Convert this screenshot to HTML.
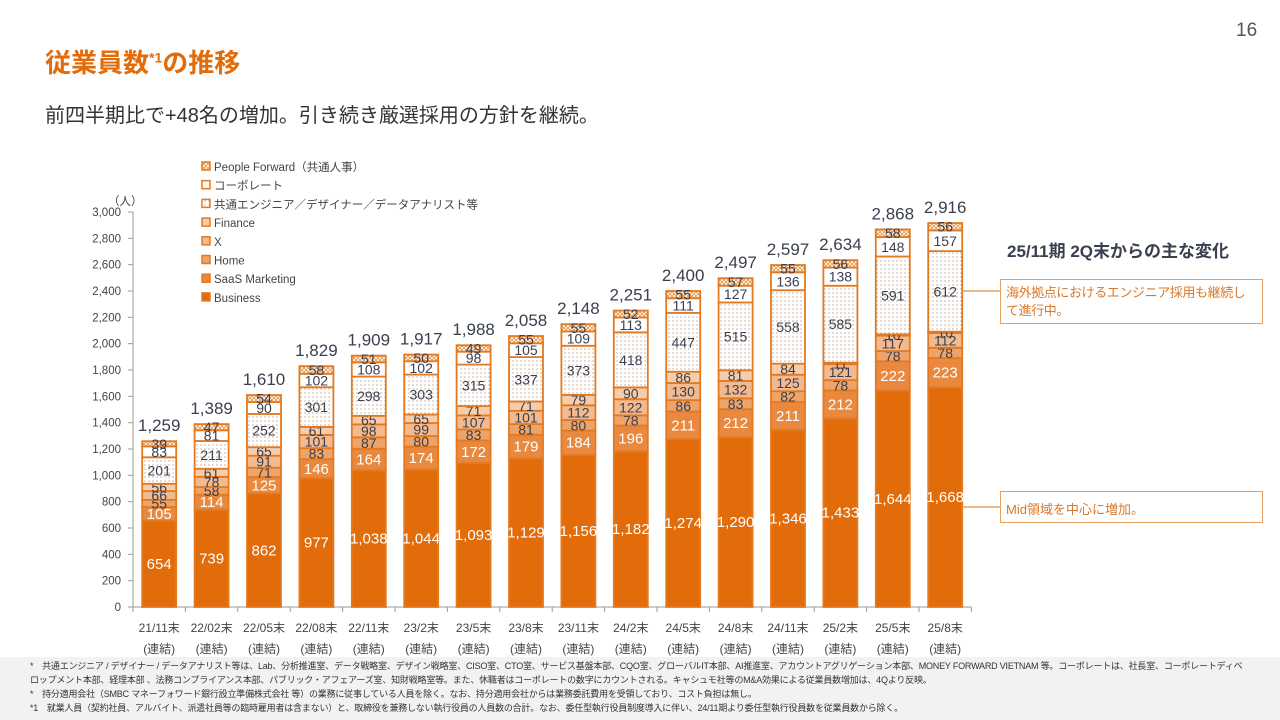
<!DOCTYPE html>
<html><head><meta charset="utf-8">
<style>
body{margin:0;width:1280px;height:720px;overflow:hidden;background:#fff;font-family:"Liberation Sans","Noto Sans CJK JP",sans-serif;position:relative;color:#3a3f4f}
.abs{position:absolute}
</style></head><body>
<div class="abs" style="left:1236px;top:20px;font-size:19px;color:#555">16</div>
<div class="abs" style="left:45px;top:43px;font-size:26px;font-weight:bold;color:#E36C0A">従業員数<sup style="font-size:14px">*1</sup>の推移</div>
<div class="abs" style="left:45px;top:99px;font-size:20px;color:#333">前四半期比で+48名の増加。引き続き厳選採用の方針を継続。</div>
<div class="abs" style="left:1007px;top:237px;font-size:17px;font-weight:bold;color:#3a3f4f">25/11期 2Q末からの主な変化</div>
<div class="abs" style="left:1000px;top:279px;width:263px;height:45px;border:1.5px solid #E8A060;padding:4px 5px;box-sizing:border-box;font-size:13px;letter-spacing:-0.4px;line-height:18px;color:#D9782A">海外拠点におけるエンジニア採用も継続して進行中。</div>
<div class="abs" style="left:1000px;top:491px;width:263px;height:32px;border:1.5px solid #E8A060;padding:7px 5px;box-sizing:border-box;font-size:13px;color:#D9782A">Mid領域を中心に増加。</div>
<svg class="abs" style="left:0;top:0" width="1280" height="720" id="chart">
<defs>
<pattern id="dots" width="4" height="4" patternUnits="userSpaceOnUse"><rect width="4" height="4" fill="#fff"/><circle cx="1" cy="1" r="0.6" fill="#b08060"/></pattern>
<pattern id="cross" width="4" height="4" patternUnits="userSpaceOnUse"><rect width="4" height="4" fill="#fff"/><path d="M0 0L4 4M4 0L0 4" stroke="#E8954A" stroke-width="0.9"/></pattern>
</defs>
<g id="g"></g>
</svg>
<div class="abs" style="left:0;top:657px;width:1280px;height:63px;background:#f2f2f2;font-size:9px;line-height:14px;color:#333;padding:2px 30px;box-sizing:border-box;letter-spacing:-0.2px">
<div>*　共通エンジニア / デザイナー / データアナリスト等は、Lab、分析推進室、データ戦略室、デザイン戦略室、CISO室、CTO室、サービス基盤本部、CQO室、グローバルIT本部、AI推進室、アカウントアグリゲーション本部、MONEY FORWARD VIETNAM 等。コーポレートは、社長室、コーポレートディベロップメント本部、経理本部 、法務コンプライアンス本部、パブリック・アフェアーズ室、知財戦略室等。また、休職者はコーポレートの数字にカウントされる。キャシュモ社等のM&A効果による従業員数増加は、4Qより反映。</div>
<div>*　持分適用会社（SMBC マネーフォワード銀行設立準備株式会社 等）の業務に従事している人員を除く。なお、持分適用会社からは業務委託費用を受領しており、コスト負担は無し。</div>
<div>*1　就業人員（契約社員、アルバイト、派遣社員等の臨時雇用者は含まない）と、取締役を兼務しない執行役員の人員数の合計。なお、委任型執行役員制度導入に伴い、24/11期より委任型執行役員数を従業員数から除く。</div>
</div>
<script>
const categories=["21/11末","22/02末","22/05末","22/08末","22/11末","23/2末","23/5末","23/8末","23/11末","24/2末","24/5末","24/8末","24/11末","25/2末","25/5末","25/8末"];
const seriesNames=["Business","SaaS Marketing","Home","X","Finance","共通エンジニア／デザイナー／データアナリスト等","コーポレート","People Forward（共通人事）"];
const business=[654,739,862,977,1038,1044,1093,1129,1156,1182,1274,1290,1346,1433,1644,1668];
const saas=[105,114,125,146,164,174,172,179,184,196,211,212,211,212,222,223];
const home=[55,58,71,83,87,80,83,81,80,78,86,83,82,78,78,78];
const xseg=[66,78,91,101,98,99,107,101,112,122,130,132,125,121,117,112];
const finance=[56,61,65,61,65,65,71,71,79,90,86,81,84,11,10,10];
const common=[201,211,252,301,298,303,315,337,373,418,447,515,558,585,591,612];
const corporate=[83,81,90,102,108,102,98,105,109,113,111,127,136,138,148,157];
const peopleForward=[39,47,54,58,51,50,49,55,55,52,55,57,55,56,58,56];
const yTicks=[0,200,400,600,800,1000,1200,1400,1600,1800,2000,2200,2400,2600,2800,3000];
const series=[business,saas,home,xseg,finance,common,corporate,peopleForward];
const fills=["#E36C0A","#E8893F","#EEA469","#F2BA8E","#F6CDAC","url(#dots)","#fff","url(#cross)"];
const txt=["#fff","#fff","#3a3f4f","#3a3f4f","#3a3f4f","#3a3f4f","#3a3f4f","#3a3f4f"];
const ns="http://www.w3.org/2000/svg";
const g=document.getElementById('g');
const x0=133,bandW=52.4,y0=607,yMax=3000,plotH=395;
const yS=v=>y0-v/yMax*plotH;
const xC=i=>x0+bandW*(i+0.5);
function mk(t,a,p){const e=document.createElementNS(ns,t);for(const k in a)e.setAttribute(k,a[k]);(p||g).appendChild(e);return e;}
let ax=mk('line',{x1:x0,y1:yS(0),x2:x0,y2:yS(3000),stroke:'#999'});


let bx=mk('line',{x1:x0-5,y1:y0,x2:x0+bandW*16,y2:y0,stroke:'#999'});


yTicks.forEach(v=>{
 mk('line',{x1:x0-5,y1:yS(v),x2:x0,y2:yS(v),stroke:'#999'});
 const t=mk('text',{x:x0-12,y:yS(v)+4,'text-anchor':'end','font-size':11.5,fill:'#444'});
 t.textContent=v.toLocaleString('en-US');
 
 
});
const u=mk('text',{x:108,y:205,'font-size':11.5,fill:'#444'});u.textContent='（人）';


for(let i=0;i<=16;i++)mk('line',{x1:x0+bandW*i,y1:y0,x2:x0+bandW*i,y2:y0+5,stroke:'#999'});
categories.forEach((c,i)=>{
 const t=mk('text',{x:xC(i),y:632,'text-anchor':'middle','font-size':12,fill:'#444'});t.textContent=c;
 
 
 const t2=mk('text',{x:xC(i),y:653,'text-anchor':'middle','font-size':12,fill:'#444'});t2.textContent='(連結)';
 
 
});
const bw=34;
categories.forEach((c,i)=>{
 let cum=0;
 series.forEach((s,k)=>{
  const v=s[i];const yt=yS(cum+v),yb=yS(cum);
  const r=mk('rect',{x:xC(i)-bw/2,y:yt,width:bw,height:yb-yt,fill:fills[k],stroke:'#E37A22','stroke-width':1.8});
  
  
  const fs=k<2?15:14;
  const t=mk('text',{x:xC(i),y:(yt+yb)/2+5,'text-anchor':'middle','font-size':fs,fill:txt[k]});
  t.textContent=v.toLocaleString('en-US');
  
  
  cum+=v;
 });
 const tt=mk('text',{x:xC(i),y:yS(cum)-10,'text-anchor':'middle','font-size':17,fill:'#3a3f4f'});
 tt.textContent=cum.toLocaleString('en-US');
 
 
});
for(let k=7;k>=0;k--){
 const row=7-k;const ly=167+row*18.7;
 const r=mk('rect',{x:202,y:ly-5,width:8,height:8,fill:fills[k],stroke:'#E37A22','stroke-width':1.5});
 
 
 const t=mk('text',{x:214,y:ly+4,'font-size':11.5,fill:'#444'});t.textContent=seriesNames[k];
 
 
}
const l1=mk('line',{x1:xC(15)+bw/2,y1:yS(2400),x2:1000,y2:yS(2400),stroke:'#E8A060','stroke-width':1.5});


const l2=mk('line',{x1:xC(15)+bw/2,y1:507,x2:1000,y2:507,stroke:'#E8A060','stroke-width':1.5});


</script>
</body></html>
